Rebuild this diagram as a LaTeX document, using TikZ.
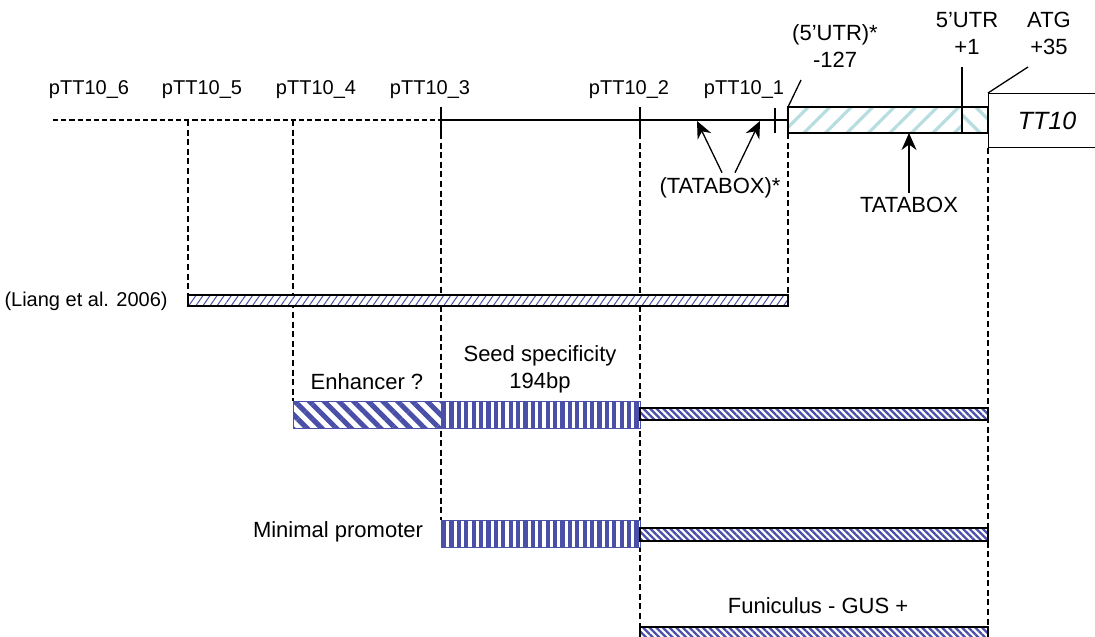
\documentclass[tikz,border=0pt]{standalone}
\usepackage{fontspec}
\setmainfont{Liberation Sans}
\usetikzlibrary{positioning,arrows.meta,patterns.meta,backgrounds}
\definecolor{geneInk}{HTML}{000000}
\definecolor{geneBlue}{HTML}{4A4FA8}
\definecolor{geneCyan}{HTML}{B7DDE1}
\tikzset{
  dna/.style      = {line width=0.65pt, draw=geneInk},
  upstream/.style = {line width=0.6pt, draw=geneInk, dash pattern=on 2.6pt off 1.5pt},
  guide/.style    = {line width=0.55pt, draw=geneInk, dash pattern=on 3pt off 1.8pt},
  tickmark/.style = {line width=0.65pt, draw=geneInk},
  bar/.style      = {anchor=north west, inner sep=0pt, outer sep=0pt,
                     preaction={fill=white}},
  liangbar/.style = {bar, draw=geneInk, line width=0.6pt,
                     pattern={Lines[angle=55,distance=2.9pt,line width=0.5pt]},
                     pattern color=geneBlue},
  enhbar/.style   = {bar, draw=geneBlue, line width=0.5pt,
                     pattern={Lines[angle=-45,distance=5.2pt,line width=2.5pt]},
                     pattern color=geneBlue},
  seedbar/.style  = {bar, draw=geneBlue, line width=0.5pt,
                     pattern={Lines[angle=90,distance=3.7pt,line width=2.1pt]},
                     pattern color=geneBlue},
  codbar/.style   = {bar, draw=geneInk, line width=0.6pt,
                     pattern={Lines[angle=-45,distance=2.35pt,line width=1.15pt]},
                     pattern color=geneBlue},
  utrbar/.style   = {bar, draw=geneInk, line width=0.6pt,
                     pattern={Lines[angle=45,distance=7.6pt,line width=1.6pt]},
                     pattern color=geneCyan},
  utrtip/.style   = {utrbar,
                     pattern={Lines[angle=-45,distance=7.6pt,line width=1.6pt]}},
  genebox/.style  = {anchor=north west, draw=geneInk, line width=0.6pt, inner sep=0pt,
                     font=\fontsize{12.5}{15}\selectfont\itshape},
  lbl/.style      = {font=\fontsize{11}{13.5}\selectfont, align=center,
                     inner sep=2pt, anchor=base},
  tag/.style      = {font=\fontsize{10}{12}\selectfont, inner sep=2pt, anchor=base},
  pointer/.style  = {-{Stealth[length=8.5pt,width=7.5pt]}, line width=0.65pt, draw=geneInk},
}

\begin{document}
\begin{tikzpicture}[x=0.5pt, y=-0.5pt]
  \useasboundingbox (0,0) rectangle (1095,636);

  \coordinate (s6) at (53,120);
  \coordinate (s5) at (188,120);
  \coordinate (s4) at (293,120);
  \coordinate (s3) at (441,120);
  \coordinate (s2) at (640,120);
  \coordinate (s1) at (775,120);

  \node[utrbar, minimum width=87pt, minimum height=13pt] (utr) at (788,107) {};
  \node[utrtip, minimum width=13pt, minimum height=13pt] (plusbox) at (utr.north east) {};
  \node[genebox, minimum width=58.5pt, minimum height=27pt] (tt10) at (988,93) {TT10};

  \node[liangbar, minimum width=300pt, minimum height=5.5pt] (liang) at (188,295) {};
  \node[enhbar, minimum width=74pt, minimum height=13.5pt] (enh) at (293,401) {};
  \node[seedbar, minimum width=99.5pt, minimum height=13.5pt] (seed) at (enh.north east) {};
  \node[codbar, minimum width=174pt, minimum height=6pt] (cod1) at (640,408) {};
  \node[seedbar, minimum width=99.5pt, minimum height=13.5pt] (minp) at (441,520) {};
  \node[codbar, minimum width=174pt, minimum height=6.5pt] (cod2) at (640,528) {};
  \node[codbar, minimum width=174pt, minimum height=6pt] (cod3) at (640,627) {};

  \begin{scope}[on background layer]
    \draw[guide] (s5) -- (liang.north west);
    \draw[guide] (s4) -- (enh.north west);
    \draw[guide] ([yshift=-6.5pt]s3) -- (minp.north west);
    \draw[guide] ([yshift=-6.5pt]s2) -- (cod3.north west);
    \draw[guide] (utr.south west) -- (liang.north east);
    \draw[guide] (tt10.south west) -- (cod3.north east);
  \end{scope}

  \draw[upstream] (s6) -- (s3);
  \draw[dna] (s3) -- (utr.west);
  \draw[tickmark] ([yshift=6.5pt]s3) -- ([yshift=-6.5pt]s3);
  \draw[tickmark] ([yshift=6.5pt]s2) -- ([yshift=-6.5pt]s2);
  \draw[tickmark] ([yshift=6pt]s1) -- ([yshift=-6.5pt]s1);

  \coordinate (utrtop) at (801,80);
  \coordinate (atgtop) at (1028,67);
  \coordinate (onetop) at (962,67);
  \draw[dna] (utr.north west) -- (utrtop);
  \draw[dna] (tt10.north west) -- (atgtop);
  \draw[dna] (plusbox.south west) -- (onetop);

  \node[tag] (l6) at (89,95) {pTT10\_6};
  \node[tag] (l5) at (202,95) {pTT10\_5};
  \node[tag] (l4) at (316,95) {pTT10\_4};
  \node[tag] (l3) at (430,95) {pTT10\_3};
  \node[tag] (l2) at (629,95) {pTT10\_2};
  \node[tag] (l1) at (744,95) {pTT10\_1};

  \node[lbl] (utrstar) at (835,68) {(5’UTR)*\\-127};
  \node[lbl] (utrone) at (967,55) {5’UTR\\+1};
  \node[lbl] (atg) at (1049,55) {ATG\\+35};
  \node[lbl] (tatabox) at (909,213) {TATABOX};
  \node[lbl] (tatastar) at (720,193) {(TATABOX)*};
  \node[tag, anchor=base east] (liangref) at (172,306) {(Liang et al. 2006)};
  \node[lbl] (enhlbl) at (367,389) {Enhancer ?};
  \node[lbl] (seedlbl) at (540,388) {Seed specificity\\194bp};
  \node[lbl] (minplbl) at (338,537) {Minimal promoter};
  \node[lbl] (funlbl) at (818,613) {Funiculus - GUS +};

  \coordinate (tb1) at (697,121);
  \coordinate (tb2) at (760,121);
  \draw[pointer] (tatabox) -- (tatabox |- utr.south);
  \draw[pointer] ([xshift=1pt]tatastar.north) -- (tb1);
  \draw[pointer] ([xshift=7.5pt]tatastar.north) -- (tb2);
\end{tikzpicture}
\end{document}
